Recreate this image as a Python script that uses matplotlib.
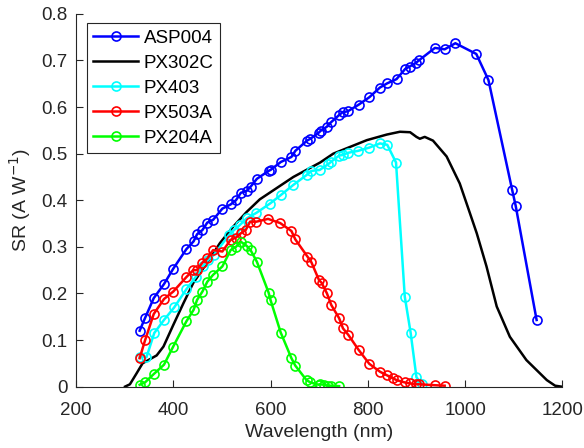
import matplotlib
matplotlib.use("Agg")
import matplotlib.pyplot as plt

plt.rcParams['font.family'] = ['Liberation Sans', 'DejaVu Sans']

# wavelengths shared by the marker series (nm)
wl = [331, 342, 360, 381, 400, 427, 442, 449, 460, 470, 482, 501, 518, 529, 539, 551,
      559, 572, 596, 600, 621, 643, 651, 675, 682, 699, 703, 716, 724, 740, 748, 759,
      781, 803, 825, 840, 859, 877, 886, 899, 906, 938, 958, 980, 1023, 1048, 1097, 1104, 1147]

asp004 = [0.120, 0.147, 0.190, 0.220, 0.253, 0.295, 0.312, 0.327, 0.336, 0.352, 0.358, 0.382, 0.391, 0.400, 0.416, 0.420,
          0.429, 0.446, 0.463, 0.465, 0.482, 0.493, 0.506, 0.528, 0.532, 0.545, 0.549, 0.558, 0.567, 0.582, 0.589, 0.591,
          0.605, 0.621, 0.642, 0.651, 0.660, 0.682, 0.687, 0.695, 0.701, 0.727, 0.724, 0.737, 0.714, 0.658, 0.421, 0.388, 0.143]

wl_red = [331, 342, 360, 381, 400, 427, 441, 449, 460, 470, 482, 501, 518, 529, 539, 549,
          558, 571, 595, 620, 643, 651, 676, 684, 700, 705, 716, 725, 741, 749, 760, 781,
          803, 825, 840, 852, 859, 876, 886, 899, 906, 938, 958]
px503a = [0.061, 0.099, 0.156, 0.188, 0.204, 0.235, 0.250, 0.250, 0.266, 0.275, 0.293, 0.290, 0.315, 0.320, 0.329, 0.336,
          0.354, 0.354, 0.360, 0.351, 0.334, 0.316, 0.279, 0.267, 0.228, 0.223, 0.200, 0.175, 0.147, 0.125, 0.111, 0.079,
          0.049, 0.032, 0.024, 0.018, 0.014, 0.009, 0.007, 0.005, 0.005, 0.003, 0.002]

wl_green = [331, 342, 360, 381, 400, 427, 442, 449, 460, 470, 482, 501, 518, 529, 539, 551,
            559, 572, 596, 600, 621, 643, 651, 674, 682, 699, 701, 710, 718, 725, 741]
px204a = [0.004, 0.009, 0.027, 0.047, 0.086, 0.140, 0.165, 0.186, 0.204, 0.225, 0.240, 0.258, 0.293, 0.300, 0.311, 0.302,
          0.293, 0.268, 0.202, 0.186, 0.116, 0.061, 0.045, 0.014, 0.009, 0.004, 0.005, 0.004, 0.002, 0.002, 0.001]

wl_cyan = [331, 345, 361, 381, 402, 427, 446, 461, 472, 484, 515, 525, 537, 551, 571, 599,
           621, 647, 674, 684, 701, 718, 725, 741, 748, 760, 780, 803, 825, 840, 858, 876, 888, 900, 912]
px403 = [0.064, 0.063, 0.115, 0.143, 0.170, 0.209, 0.235, 0.258, 0.272, 0.283, 0.326, 0.336, 0.347, 0.361, 0.373, 0.393,
         0.411, 0.433, 0.454, 0.463, 0.465, 0.477, 0.483, 0.496, 0.497, 0.502, 0.506, 0.513, 0.522, 0.519, 0.481, 0.193, 0.116, 0.020, 0.005]

wl_black = [301, 311, 325, 337, 349, 366, 380, 400, 421, 441, 469, 496, 523, 551, 578, 647,
            702, 729, 798, 839, 866, 887, 900, 907, 917, 934, 962, 989, 1010, 1024, 1044, 1065,
            1092, 1126, 1168, 1185, 1198]
px302c = [0.000, 0.005, 0.029, 0.050, 0.057, 0.067, 0.086, 0.132, 0.179, 0.222, 0.265, 0.308, 0.343, 0.375, 0.402, 0.450,
          0.481, 0.500, 0.529, 0.541, 0.547, 0.546, 0.536, 0.532, 0.536, 0.528, 0.494, 0.436, 0.372, 0.329, 0.258, 0.172,
          0.107, 0.057, 0.014, 0.002, 0.000]

fig = plt.figure(figsize=(5.84, 4.48), dpi=100)
ax = fig.add_axes([0.130, 0.137, 0.833, 0.832])

mk = dict(marker='o', mfc='none', ms=6.5, mew=1.2, lw=1.8)
ax.plot(wl, asp004, color='#0000ff', label='ASP004', **mk)
ax.plot(wl_black, px302c, color='black', lw=1.8, label='PX302C')
ax.plot(wl_cyan, px403, color='#00ffff', label='PX403', **mk)
ax.plot(wl_red, px503a, color='#ff0000', label='PX503A', **mk)
ax.plot(wl_green, px204a, color='#00ff00', label='PX204A', **mk)

ax.set_xlim(200, 1200)
ax.set_ylim(0, 0.8)
ax.set_xticks([200, 400, 600, 800, 1000, 1200])
ax.set_yticks([0, 0.1, 0.2, 0.3, 0.4, 0.5, 0.6, 0.7, 0.8])
ax.set_yticklabels(['0', '0.1', '0.2', '0.3', '0.4', '0.5', '0.6', '0.7', '0.8'])
ax.tick_params(direction='in', length=5, width=0.8, colors='#262626', labelsize=13.5)
ax.tick_params(axis='x', pad=11)
ax.tick_params(axis='y', pad=6)
for s in ['top', 'right']:
    ax.spines[s].set_visible(False)
for s in ['left', 'bottom']:
    ax.spines[s].set_color('#262626')
    ax.spines[s].set_linewidth(0.8)

ax.set_xlabel('Wavelength (nm)', fontsize=14, color='#262626', labelpad=4)
ax.set_ylabel('SR (A W$^{-1}$)', fontsize=14, color='#262626', labelpad=6)

leg = ax.legend(loc='upper left', bbox_to_anchor=(0.022, 0.975), borderaxespad=0, fontsize=13.5,
                handlelength=2.4, handletextpad=0.3, labelspacing=0.42, borderpad=0.35,
                fancybox=False, framealpha=1)
leg.get_frame().set_edgecolor('#262626')
leg.get_frame().set_linewidth(0.8)

fig.savefig('out.png', dpi=100)
